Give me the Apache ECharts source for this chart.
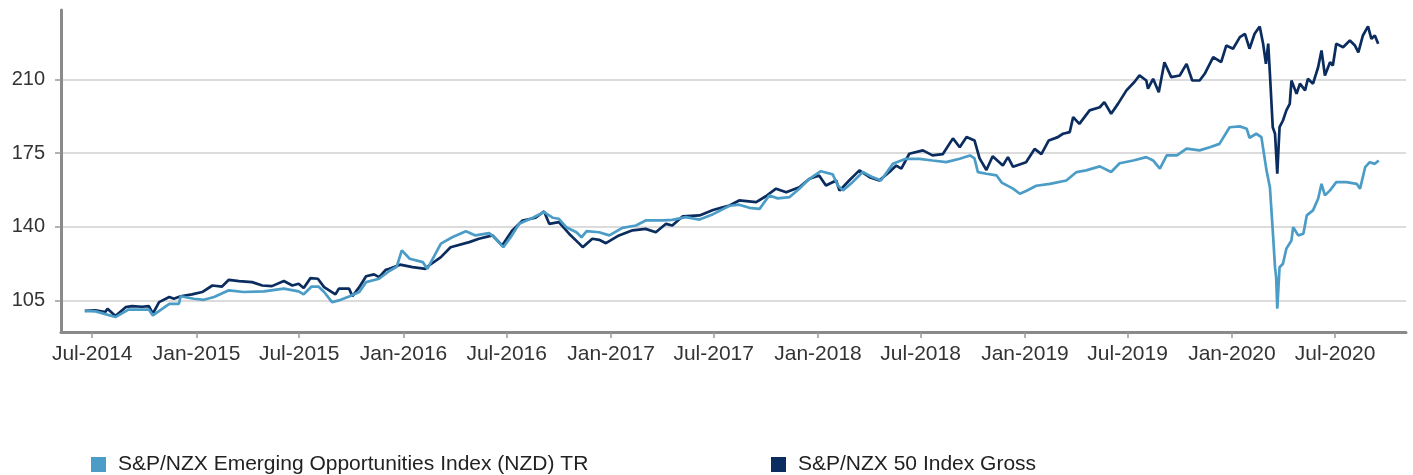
<!DOCTYPE html>
<html>
<head>
<meta charset="utf-8">
<script src="https://cdn.jsdelivr.net/npm/echarts@6/dist/echarts.min.js"></script>
<style>
  html, body { margin: 0; padding: 0; background: #fff; }
  #chart { width: 1413px; height: 475px; }
</style>
</head>
<body>
<div id="chart"></div>
<script>
// series names
var seriesNames = ['S&P/NZX Emerging Opportunities Index (NZD) TR', 'S&P/NZX 50 Index Gross'];

// y axis ticks
var yTicks = [105, 140, 175, 210];
// x axis labels (half years)
var xTickDates = ['2014-07-01', '2015-01-01', '2015-07-01', '2016-01-01', '2016-07-01', '2017-01-01',
  '2017-07-01', '2018-01-01', '2018-07-01', '2019-01-01', '2019-07-01', '2020-01-01', '2020-07-01'];

// S&P/NZX Emerging Opportunities Index (NZD) TR
var emergingDates = ['2014-06-18', '2014-07-07', '2014-08-11', '2014-09-03', '2014-10-09', '2014-10-16',
  '2014-11-14', '2014-12-01', '2014-12-04', '2014-12-27', '2015-01-14', '2015-02-01', '2015-02-27',
  '2015-03-25', '2015-04-30', '2015-06-04', '2015-06-30', '2015-07-09', '2015-07-23', '2015-08-04',
  '2015-08-14', '2015-08-28', '2015-09-09', '2015-09-27', '2015-10-15', '2015-10-27', '2015-11-19',
  '2015-12-07', '2015-12-20', '2015-12-29', '2016-01-12', '2016-02-04', '2016-02-12', '2016-03-07',
  '2016-03-27', '2016-04-20', '2016-05-07', '2016-05-31', '2016-06-09', '2016-06-25', '2016-07-08',
  '2016-07-23', '2016-08-16', '2016-09-05', '2016-09-20', '2016-10-01', '2016-10-14', '2016-11-01',
  '2016-11-10', '2016-11-19', '2016-12-11', '2016-12-29', '2017-01-21', '2017-02-14', '2017-03-03',
  '2017-04-02', '2017-04-19', '2017-05-13', '2017-06-06', '2017-06-30', '2017-07-29', '2017-08-15',
  '2017-09-02', '2017-09-20', '2017-10-07', '2017-10-22', '2017-11-12', '2017-11-29', '2017-12-17',
  '2018-01-06', '2018-01-27', '2018-02-05', '2018-02-14', '2018-03-03', '2018-03-21', '2018-04-07',
  '2018-04-22', '2018-05-13', '2018-06-05', '2018-06-29', '2018-07-22', '2018-08-15', '2018-09-08',
  '2018-09-26', '2018-10-04', '2018-10-10', '2018-10-25', '2018-11-12', '2018-11-21', '2018-12-11',
  '2018-12-23', '2019-01-03', '2019-01-21', '2019-02-14', '2019-03-15', '2019-04-02', '2019-04-19',
  '2019-05-13', '2019-06-02', '2019-06-17', '2019-07-11', '2019-08-03', '2019-08-15', '2019-08-27',
  '2019-09-08', '2019-09-26', '2019-10-13', '2019-11-05', '2019-11-23', '2019-12-10', '2019-12-28',
  '2020-01-15', '2020-01-27', '2020-02-01', '2020-02-13', '2020-02-22', '2020-03-02', '2020-03-08',
  '2020-03-13', '2020-03-17', '2020-03-19', '2020-03-21', '2020-03-25', '2020-03-31', '2020-04-06',
  '2020-04-15', '2020-04-18', '2020-04-27', '2020-05-06', '2020-05-12', '2020-05-23', '2020-06-01',
  '2020-06-07', '2020-06-13', '2020-06-22', '2020-07-03', '2020-07-21', '2020-08-08', '2020-08-14',
  '2020-08-23', '2020-08-31', '2020-09-09', '2020-09-16'];
var emergingValues = [100, 99.8, 97.1, 100.6, 100.6, 97.9,
  103.4, 103.4, 107, 105.8, 105.3, 106.6, 109.8,
  109, 109.3, 110.6, 109.3, 107.9, 111.6, 111.6,
  109, 104.2, 105, 106.9, 109, 113.7, 115.3,
  119, 121, 128.8, 124.8, 123.2, 120, 132,
  135, 137.9, 135.9, 137, 135, 130.3, 135,
  141.4, 144.3, 147, 144.3, 143.8, 139.8, 137.4,
  135, 137.9, 137.4, 135.9, 139.5, 140.6, 143,
  143, 143.3, 144.6, 143.4, 146, 150, 150.5,
  149, 148.5, 154.9, 153.5, 154.1, 158.1, 162.8,
  166.4, 164.9, 159.6, 157.3, 161.2, 166, 163.6,
  162, 169.9, 172.3, 172.3, 171.5, 170.7, 172.3,
  173.9, 172.5, 166, 165.2, 164.4, 161, 158.1,
  155.7, 157, 159.5, 160.4, 162, 166, 166.8,
  168.7, 166, 170.2, 171.5, 173.1, 171.5, 167.6,
  173.9, 173.9, 177.1, 176.3, 177.8, 179.4, 187.3,
  187.7, 186.6, 182.3, 184.2, 182.6, 166.8, 158.8,
  138.3, 120.8, 116.1, 101.1, 120.8, 122.4, 129.6,
  133.5, 139.8, 135.9, 136.7, 145.4, 147.8, 153.3,
  160.4, 154.9, 157.3, 161.2, 161.2, 160.4, 158.1,
  168.3, 170.7, 169.9, 171.5];

// S&P/NZX 50 Index Gross
var nzx50Dates = ['2014-06-18', '2014-07-07', '2014-07-24', '2014-07-28', '2014-08-11', '2014-08-29',
  '2014-09-09', '2014-09-27', '2014-10-09', '2014-10-16', '2014-10-27', '2014-11-14', '2014-11-22',
  '2014-12-04', '2014-12-24', '2015-01-11', '2015-01-29', '2015-02-15', '2015-02-27', '2015-03-17',
  '2015-04-09', '2015-04-27', '2015-05-14', '2015-06-04', '2015-06-19', '2015-06-30', '2015-07-09',
  '2015-07-21', '2015-08-03', '2015-08-14', '2015-09-03', '2015-09-09', '2015-09-27', '2015-10-03',
  '2015-10-15', '2015-10-27', '2015-11-10', '2015-11-19', '2015-12-01', '2015-12-07', '2015-12-26',
  '2016-01-17', '2016-02-09', '2016-02-15', '2016-03-07', '2016-03-24', '2016-04-26', '2016-05-13',
  '2016-06-06', '2016-06-23', '2016-07-11', '2016-07-29', '2016-08-21', '2016-09-05', '2016-09-14',
  '2016-10-01', '2016-10-19', '2016-11-06', '2016-11-12', '2016-11-29', '2016-12-11', '2016-12-23',
  '2017-01-15', '2017-02-08', '2017-03-03', '2017-03-21', '2017-04-08', '2017-04-19', '2017-05-07',
  '2017-06-06', '2017-06-30', '2017-07-17', '2017-07-29', '2017-08-15', '2017-09-14', '2017-10-01',
  '2017-10-19', '2017-11-06', '2017-11-29', '2017-12-17', '2018-01-03', '2018-01-15', '2018-02-02',
  '2018-02-08', '2018-02-25', '2018-03-15', '2018-04-02', '2018-04-19', '2018-05-07', '2018-05-19',
  '2018-05-28', '2018-06-11', '2018-07-05', '2018-07-22', '2018-08-09', '2018-08-27', '2018-09-08',
  '2018-09-20', '2018-10-04', '2018-10-13', '2018-10-25', '2018-11-05', '2018-11-23', '2018-12-02',
  '2018-12-11', '2019-01-03', '2019-01-18', '2019-01-30', '2019-02-12', '2019-02-28', '2019-03-09',
  '2019-03-21', '2019-03-27', '2019-04-07', '2019-04-25', '2019-05-13', '2019-05-21', '2019-06-02',
  '2019-06-14', '2019-06-29', '2019-07-13', '2019-07-22', '2019-08-03', '2019-08-06', '2019-08-15',
  '2019-08-25', '2019-09-04', '2019-09-16', '2019-10-01', '2019-10-13', '2019-10-23', '2019-11-05',
  '2019-11-14', '2019-11-29', '2019-12-13', '2019-12-22', '2020-01-03', '2020-01-15', '2020-01-24',
  '2020-02-01', '2020-02-10', '2020-02-19', '2020-02-25', '2020-03-01', '2020-03-05', '2020-03-08',
  '2020-03-13', '2020-03-17', '2020-03-21', '2020-03-25', '2020-03-31', '2020-04-06', '2020-04-12',
  '2020-04-15', '2020-04-24', '2020-04-30', '2020-05-09', '2020-05-14', '2020-05-23', '2020-06-01',
  '2020-06-07', '2020-06-13', '2020-06-22', '2020-06-27', '2020-07-03', '2020-07-15', '2020-07-27',
  '2020-08-05', '2020-08-11', '2020-08-19', '2020-08-28', '2020-09-03', '2020-09-09', '2020-09-15'];
var nzx50Values = [100, 100.3, 99.5, 101, 97.6, 101.8,
  102.3, 102, 102.3, 98.7, 104.2, 106.6, 105.8,
  107, 107.9, 109, 112.1, 111.6, 114.8, 114.2,
  113.7, 112.1, 111.8, 114.2, 112.1, 112.9, 110.9,
  115.6, 115.3, 111.3, 107.9, 110.6, 110.6, 107,
  111.3, 116.5, 117.4, 116.1, 119.6, 120, 122,
  120.8, 120, 121.6, 125.6, 130.3, 132.7, 134.3,
  135.9, 131.1, 138.3, 143, 144.3, 147.3, 141.4,
  142.2, 136.7, 132, 130.3, 134.3, 133.8, 132.2,
  135.9, 138.3, 139, 137.4, 141.4, 140.6, 144.9,
  145.4, 148, 149.3, 150.1, 152.5, 151.7, 154.5,
  158.1, 156.4, 158.8, 162.8, 164.4, 159.6, 162,
  157.2, 162, 166.8, 163.6, 162, 166, 169.1,
  167.6, 174.7, 176.3, 173.9, 174.5, 182, 177.8,
  182.6, 181, 172.5, 167, 173.5, 169.1, 173.1,
  168.5, 170.7, 177, 174.5, 181, 182.6, 184.2,
  185, 192.1, 188.9, 195.3, 196.8, 199.2, 193.7,
  198.4, 204.8, 208.8, 211.9, 209.5, 205.6, 210.3,
  203.9, 218.2, 211.1, 211.9, 217.4, 209.5, 209.5,
  212.7, 220.6, 218.2, 226.1, 224.6, 230.1, 231.7,
  224.6, 231.7, 235.2, 227, 217.4, 227, 212.7,
  187.3, 184.2, 165.2, 187.3, 190.5, 195.3, 198.4,
  209.5, 203.2, 208, 204.8, 210.3, 208, 215.8,
  223.8, 211.9, 218.2, 216.6, 227, 225.3, 228.5,
  226.1, 222.9, 230.9, 235.2, 229.3, 230.9, 227];

var colors = ['#4b9cc6', '#0b2c5f'];
var monthNames = ['Jan', 'Feb', 'Mar', 'Apr', 'May', 'Jun', 'Jul', 'Aug', 'Sep', 'Oct', 'Nov', 'Dec'];

// 'YYYY-MM-DD' -> UTC timestamp
function ts(s) {
  var p = s.split('-');
  return Date.UTC(+p[0], +p[1] - 1, +p[2]);
}

function zip(dates, values) {
  return dates.map(function (d, i) { return [ts(d), values[i]]; });
}

var chart = echarts.init(document.getElementById('chart'));
var labelFont = '"Liberation Sans", Arial, sans-serif';
var xTicks = xTickDates.map(ts);

function legendAt(left, name) {
  return {
    left: left, top: 454, padding: 0,
    itemWidth: 15, itemHeight: 15, icon: 'rect',
    itemStyle: { borderWidth: 0 },
    data: [name],
    textStyle: { fontSize: 21, color: '#222', fontFamily: labelFont, padding: [0, 0, 0, 7] }
  };
}

chart.setOption({
  animation: false,
  grid: {
    left: 61,
    right: 7,
    top: 10,
    bottom: 143,
    containLabel: false,
    outerBoundsMode: 'none'
  },
  legend: [legendAt(91, seriesNames[0]), legendAt(771, seriesNames[1])],
  xAxis: {
    type: 'value',
    min: ts('2014-05-07'),
    max: ts('2020-11-03'),
    axisLine: { show: true, onZero: false, lineStyle: { color: '#8a8a8a', width: 3 } },
    axisTick: {
      show: true, length: 6, customValues: xTicks,
      lineStyle: { color: '#999', width: 1.5 }
    },
    axisLabel: {
      customValues: xTicks,
      fontSize: 21,
      color: '#333',
      fontFamily: labelFont,
      margin: 12,
      formatter: function (v) {
        var d = new Date(v);
        return monthNames[d.getUTCMonth()] + '-' + d.getUTCFullYear();
      }
    },
    splitLine: { show: false }
  },
  yAxis: {
    type: 'value',
    min: 90,
    max: 243,
    axisLine: { show: true, lineStyle: { color: '#8a8a8a', width: 3 } },
    axisTick: {
      show: true, length: 6, customValues: yTicks,
      lineStyle: { color: '#999', width: 1.5 }
    },
    axisLabel: {
      customValues: yTicks,
      fontSize: 20,
      color: '#333',
      fontFamily: labelFont,
      margin: 16
    },
    splitLine: { show: true, lineStyle: { color: '#dcdcdc', width: 2 } }
  },
  series: [
    {
      name: seriesNames[1],
      type: 'line',
      showSymbol: false,
      color: colors[1],
      lineStyle: { width: 2.7, color: colors[1] },
      data: zip(nzx50Dates, nzx50Values)
    },
    {
      name: seriesNames[0],
      type: 'line',
      showSymbol: false,
      color: colors[0],
      lineStyle: { width: 2.7, color: colors[0] },
      data: zip(emergingDates, emergingValues)
    }
  ]
});
</script>
</body>
</html>
